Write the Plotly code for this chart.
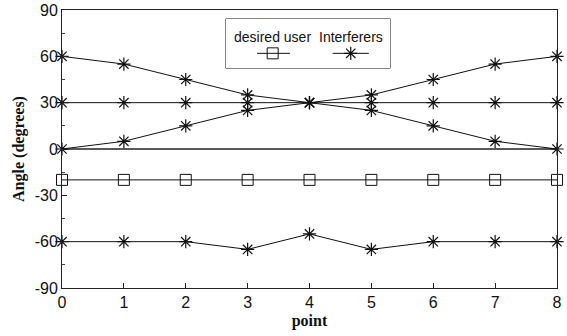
import plotly.graph_objects as go

points = [0, 1, 2, 3, 4, 5, 6, 7, 8]
desired_user = [-20, -20, -20, -20, -20, -20, -20, -20, -20]
interferer_a = [60, 55, 45, 35, 30, 25, 15, 5, 0]
interferer_b = [30, 30, 30, 30, 30, 30, 30, 30, 30]
interferer_c = [0, 5, 15, 25, 30, 35, 45, 55, 60]
interferer_d = [-60, -60, -60, -65, -55, -65, -60, -60, -60]
zero_line = [0, 0]
zero_x = [0, 8]
y_ticks = [-90, -60, -30, 0, 30, 60, 90]
y_tick_text = ["-90", "-60", "-30", "0", "30", "60", "90"]
x_ticks = [0, 1, 2, 3, 4, 5, 6, 7, 8]
legend_labels = ["desired user", "Interferers"]

INK = "#111"
ast = dict(symbol="asterisk-open", size=11, color=INK, line=dict(color=INK, width=1.2))
sq = dict(symbol="square-open", size=11, color=INK, line=dict(color=INK, width=1))

fig = go.Figure()
fig.add_trace(go.Scatter(x=zero_x, y=zero_line, mode="lines",
                         line=dict(color="#222", width=1.3), showlegend=False))
for ys in [interferer_a, interferer_b, interferer_c, interferer_d]:
    fig.add_trace(go.Scatter(x=points, y=ys, mode="lines+markers",
                             line=dict(color=INK, width=1), marker=ast,
                             showlegend=False, cliponaxis=False))
fig.add_trace(go.Scatter(x=points, y=desired_user, mode="lines+markers",
                         line=dict(color=INK, width=1), marker=sq,
                         showlegend=False, cliponaxis=False))

# custom legend drawn on an overlay axis (text above symbol, as in reference)
lx0, lx1, ly0, ly1 = 0.331, 0.663, 0.791, 0.968
fig.add_shape(type="rect", xref="paper", yref="paper", x0=lx0, x1=lx1, y0=ly0, y1=ly1,
              line=dict(color="#222", width=1), fillcolor="white", layer="below")
fig.add_trace(go.Scatter(x=[0.19, 0.39], y=[0.3, 0.3], xaxis="x2", yaxis="y2",
                         mode="lines", line=dict(color=INK, width=1), showlegend=False))
fig.add_trace(go.Scatter(x=[0.285], y=[0.3], xaxis="x2", yaxis="y2", mode="markers",
                         marker=sq, showlegend=False))
fig.add_trace(go.Scatter(x=[0.65, 0.87], y=[0.3, 0.3], xaxis="x2", yaxis="y2",
                         mode="lines", line=dict(color=INK, width=1), showlegend=False))
fig.add_trace(go.Scatter(x=[0.76], y=[0.3], xaxis="x2", yaxis="y2", mode="markers",
                         marker=ast, showlegend=False))
for lbl, xc in zip(legend_labels, [0.284, 0.762]):
    fig.add_annotation(x=xc, y=0.64, xref="x2", yref="y2", text=lbl, showarrow=False,
                       font=dict(family="Liberation Sans, Arial", size=14, color=INK))

fig.update_layout(
    width=567, height=336,
    margin=dict(l=62, r=10, t=10, b=48),
    paper_bgcolor="white", plot_bgcolor="white",
    font=dict(family="Liberation Sans, Arial", size=16, color=INK),
    xaxis=dict(range=[0, 8], tickvals=x_ticks, ticks="inside", ticklen=5,
               showgrid=False, zeroline=False, showline=True, linecolor="#222",
               linewidth=1, mirror=True, tickcolor="#222", automargin=False,
               title=dict(text="<b>point</b>", standoff=4,
                          font=dict(family="Liberation Serif, Times New Roman", size=16))),
    yaxis=dict(range=[-90, 90], tickvals=y_ticks, ticktext=y_tick_text,
               ticks="inside", ticklen=5,
               showgrid=False, zeroline=False, showline=True, linecolor="#222",
               linewidth=1, mirror=True, tickcolor="#222", automargin=False,
               minor=dict(dtick=15, ticks="inside", ticklen=3, tickcolor="#444"),
               title=dict(text="<b>Angle (degrees)</b>", standoff=6,
                          font=dict(family="Liberation Serif, Times New Roman", size=16))),
    xaxis2=dict(domain=[lx0, lx1], range=[0, 1], visible=False, anchor="y2"),
    yaxis2=dict(domain=[ly0, ly1], range=[0, 1], visible=False, anchor="x2"),
)

fig.write_html("out.html")
